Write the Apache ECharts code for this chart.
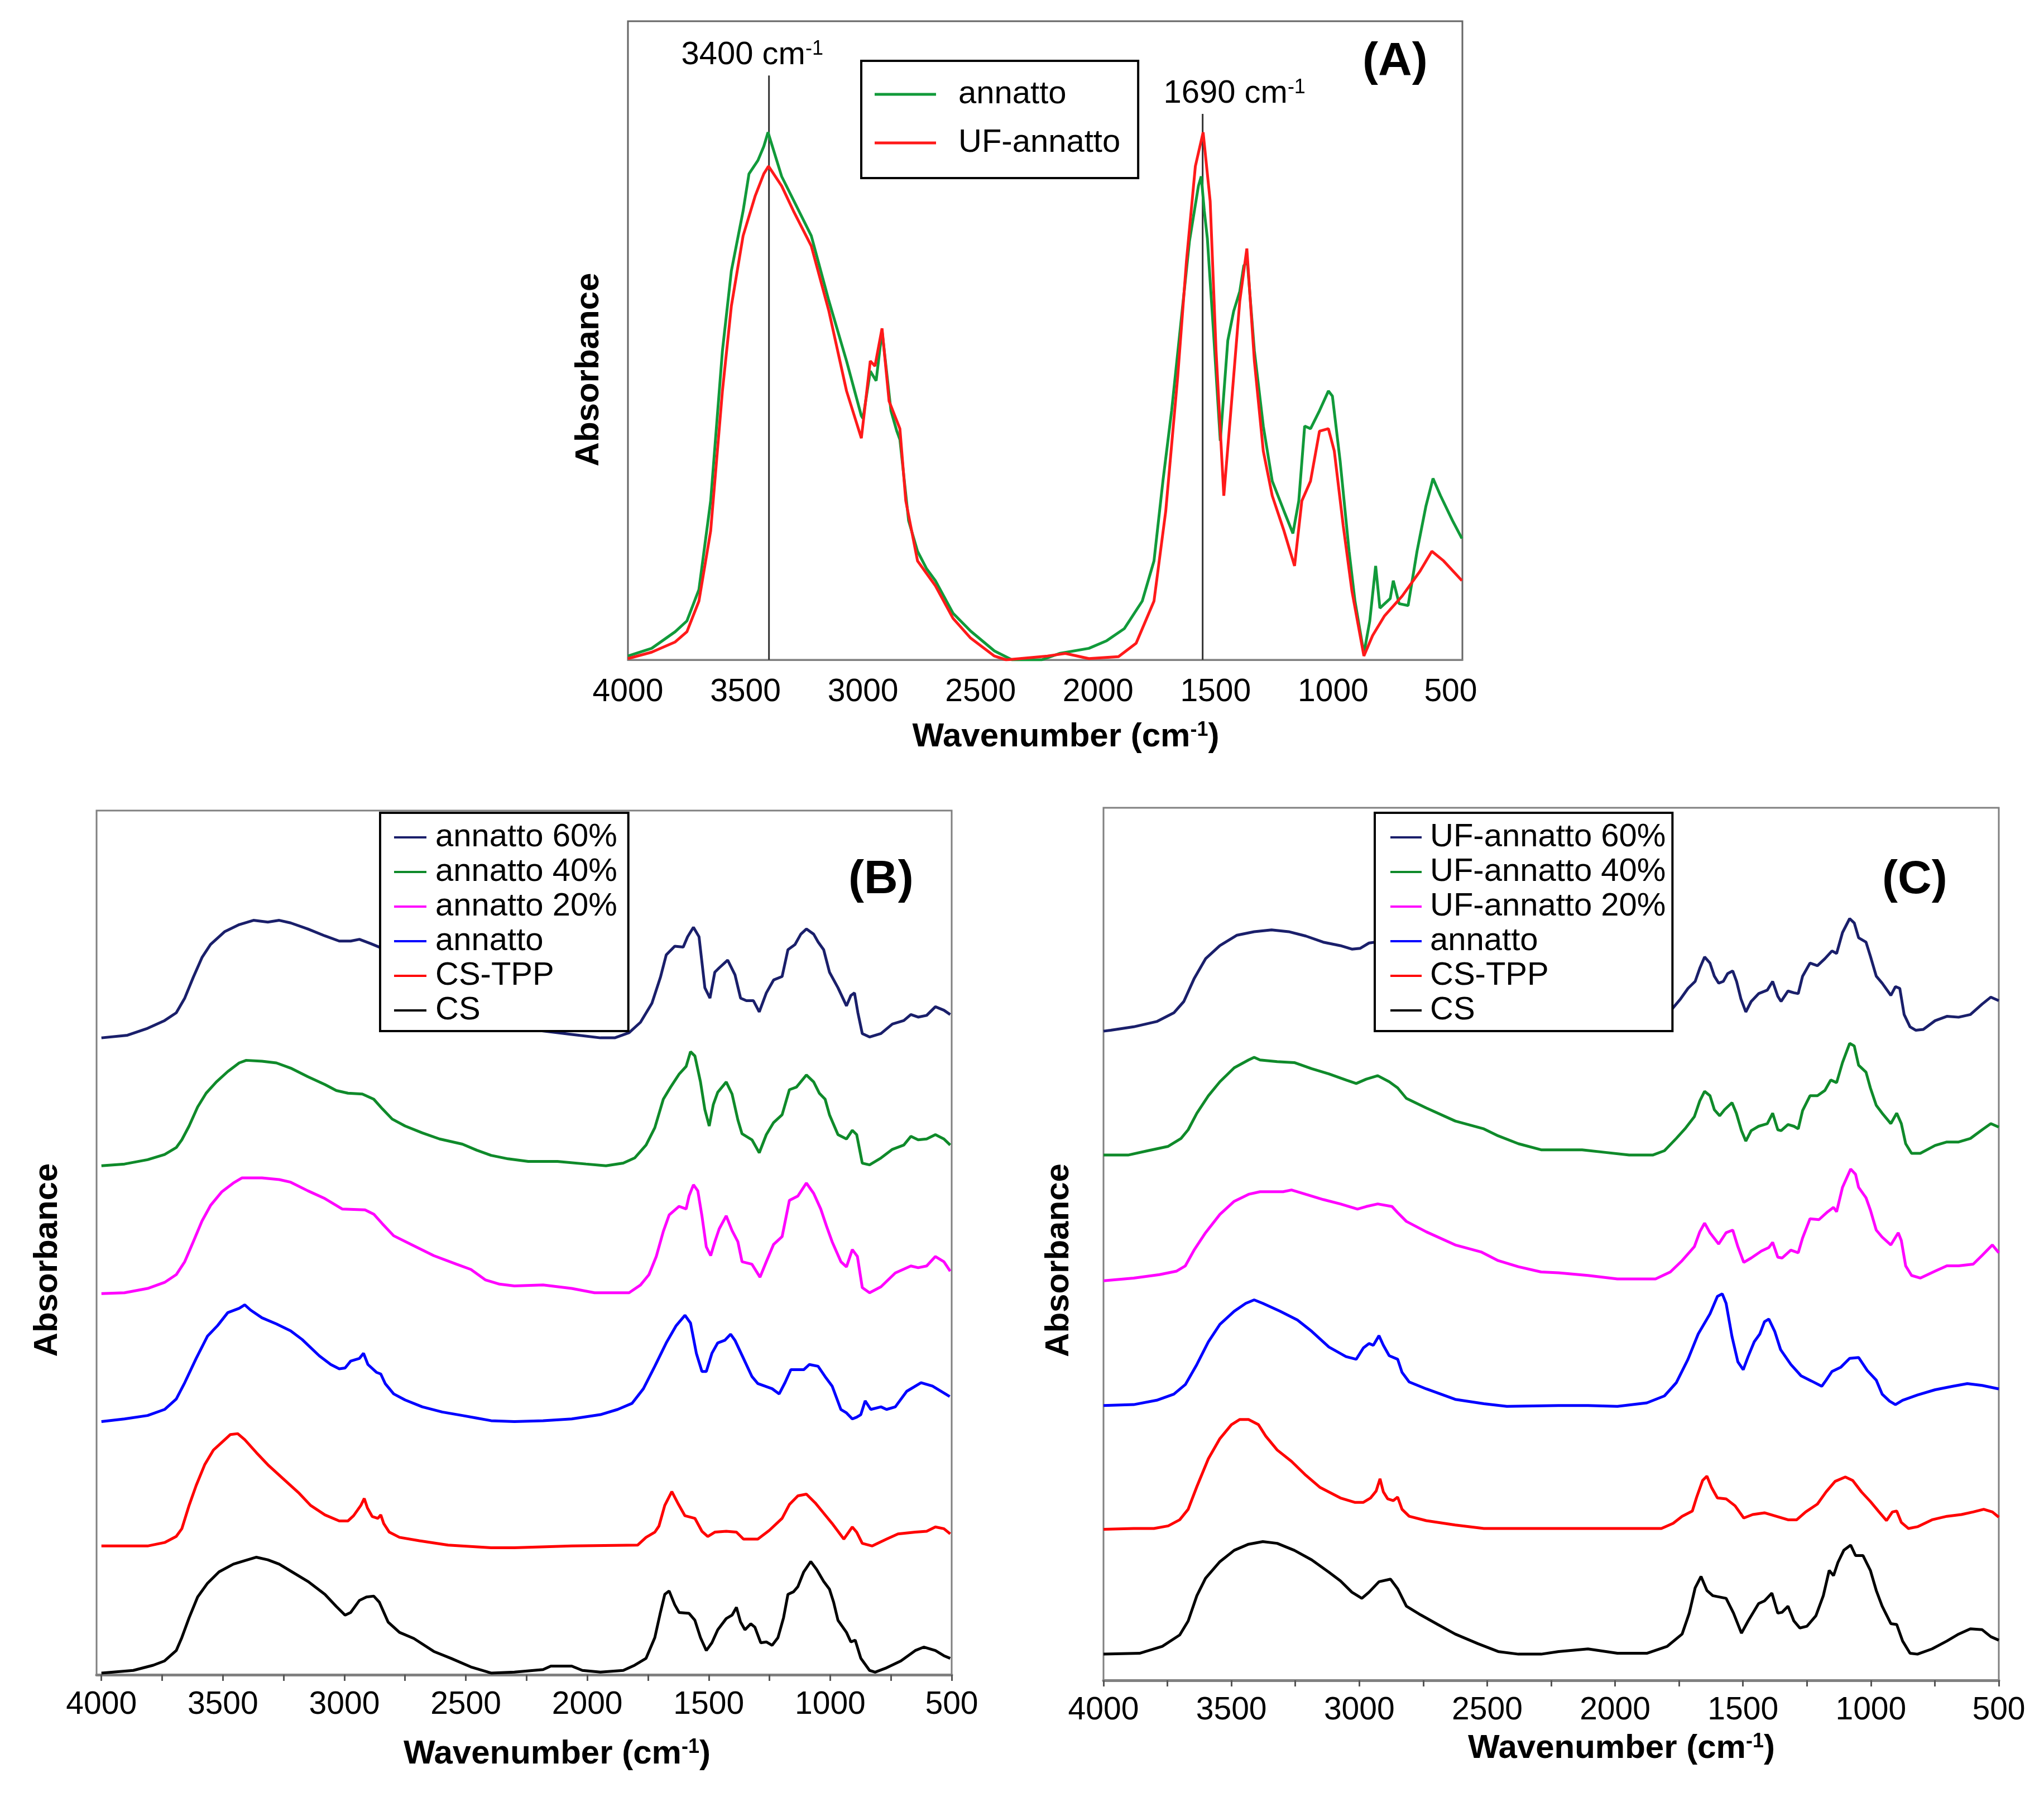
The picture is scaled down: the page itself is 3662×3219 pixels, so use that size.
<!DOCTYPE html>
<html>
<head>
<meta charset="utf-8">
<title>FTIR spectra</title>
<script src="https://cdn.jsdelivr.net/npm/echarts@6/dist/echarts.min.js"></script>
<style>
  html, body { margin: 0; padding: 0; background: #fff; }
  #main { width: 3662px; height: 3219px; }
</style>
</head>
<body>
<div id="main"></div>
<script>
// tick values on the wavenumber axis
var tickLabels = [4000, 3500, 3000, 2500, 2000, 1500, 1000, 500];
var minorTicks = [4000, 3750, 3500, 3250, 3000, 2750, 2500, 2250, 2000, 1750, 1500, 1250, 1000, 750, 500];

// ---- panel A : [wavenumber, absorbance (arb.)]
var A_annatto = [[4000,0.6],[3899,1.8],[3799,4.4],[3749,6.1],[3698,11.0],[3648,24.9],[3598,48.4],[3560,60.9],[3510,70.3],[3485,76.1],[3447,78.2],[3422,80.4],[3404,82.6],[3346,75.7],[3220,66.4],[3145,56.2],[3070,46.8],[3007,38.2],[3000,37.8],[2969,45.2],[2944,43.7],[2919,51.5],[2881,39.0],[2856,35.8],[2843,34.5],[2806,21.8],[2768,17.0],[2730,14.3],[2692,12.4],[2617,7.3],[2542,4.5],[2441,1.4],[2366,0],[2240,0],[2164,1.0],[2039,1.8],[1963,3.0],[1888,4.9],[1812,9.2],[1762,15.5],[1724,28.0],[1687,39.0],[1649,52.3],[1611,65.6],[1573,74.2],[1561,75.7],[1548,70.3],[1535,66.0],[1510,52.0],[1480,34.3],[1448,50.0],[1423,54.6],[1397,57.7],[1380,61.7],[1365,62.4],[1335,48.4],[1297,36.6],[1259,28.0],[1209,23.3],[1171,19.8],[1146,24.9],[1121,36.6],[1096,36.2],[1058,39.0],[1020,42.1],[1003,41.3],[970,31.1],[932,17.0],[907,9.2],[869,1.0],[844,6.1],[819,14.7],[801,8.1],[757,9.6],[744,12.4],[719,8.8],[681,8.5],[643,17.0],[605,24.1],[575,28.4],[543,25.7],[492,21.8],[452,19.0]];
var A_ufAnnatto = [[4000,0.2],[3899,1.2],[3799,2.8],[3749,4.4],[3698,9.2],[3648,20.2],[3598,42.1],[3560,55.4],[3510,66.4],[3459,72.6],[3422,76.1],[3402,77.3],[3346,74.2],[3296,70.3],[3220,64.8],[3145,54.6],[3070,42.1],[3007,34.7],[2969,46.8],[2949,46.0],[2919,51.9],[2889,40.5],[2843,36.2],[2818,24.9],[2768,15.5],[2692,11.6],[2617,6.5],[2542,3.4],[2441,0.6],[2391,0],[2215,0.6],[2139,1.0],[2039,0.2],[1913,0.5],[1838,2.6],[1762,9.2],[1712,23.3],[1661,44.4],[1624,62.4],[1586,77.3],[1553,82.6],[1523,71.8],[1498,48.4],[1465,25.7],[1435,39.0],[1397,56.2],[1367,64.4],[1335,46.8],[1297,32.7],[1259,25.7],[1209,20.2],[1164,14.7],[1133,24.9],[1096,28.0],[1058,35.8],[1020,36.2],[995,32.7],[957,21.0],[920,10.8],[869,0.6],[832,3.8],[781,6.9],[706,10.0],[630,13.9],[580,17.0],[530,15.5],[452,12.4]];
// reference lines drawn in panel A
var A_line3400 = [[3400,0],[3400,91.5]];
var A_line1690 = [[1555,0],[1555,85.5]];

// ---- panel B (stacked, offset spectra)
var B_annatto60 = [[4000,73.7],[3893,74.0],[3810,74.8],[3740,75.7],[3692,76.6],[3657,78.3],[3622,80.7],[3586,83.0],[3551,84.5],[3492,86.0],[3433,86.8],[3374,87.3],[3315,87.1],[3268,87.3],[3221,87.0],[3150,86.3],[3080,85.5],[3021,84.9],[2974,84.9],[2938,85.1],[2891,84.6],[2856,84.2],[2750,82.5],[2600,80.0],[2450,77.5],[2300,74.9],[2182,74.5],[2064,74.1],[1946,73.7],[1887,73.7],[1828,74.3],[1781,75.5],[1734,77.7],[1699,80.7],[1675,83.3],[1640,84.3],[1605,84.2],[1587,85.4],[1563,86.5],[1540,85.4],[1516,79.5],[1495,78.3],[1475,81.3],[1457,81.8],[1422,82.7],[1392,81.0],[1369,78.3],[1345,78.0],[1316,78.0],[1292,76.7],[1263,78.9],[1233,80.4],[1198,80.8],[1174,83.9],[1145,84.5],[1121,85.7],[1098,86.3],[1068,85.7],[1050,84.8],[1027,83.9],[1003,81.3],[968,79.5],[933,77.4],[915,78.6],[900,78.9],[886,76.6],[868,74.2],[838,73.8],[791,74.2],[744,75.3],[697,75.7],[668,76.4],[638,76.1],[603,76.3],[567,77.3],[532,76.9],[506,76.4]];
var B_annatto40 = [[4000,58.9],[3905,59.1],[3810,59.6],[3740,60.2],[3692,61.0],[3669,61.9],[3639,63.5],[3604,65.7],[3569,67.3],[3527,68.6],[3480,69.8],[3433,70.8],[3404,71.1],[3339,71.0],[3280,70.8],[3221,70.2],[3150,69.2],[3080,68.3],[3033,67.6],[2985,67.3],[2926,67.2],[2879,66.6],[2844,65.5],[2803,64.3],[2750,63.5],[2679,62.7],[2608,62.0],[2514,61.4],[2455,60.7],[2396,60.1],[2326,59.7],[2243,59.4],[2123,59.4],[2005,59.1],[1923,58.9],[1852,59.2],[1805,59.8],[1758,61.3],[1722,63.3],[1687,66.6],[1657,68.0],[1622,69.5],[1593,70.4],[1575,72.1],[1557,71.6],[1534,68.6],[1516,65.4],[1498,63.5],[1481,66.0],[1463,67.4],[1428,68.6],[1404,67.2],[1380,64.2],[1363,62.6],[1322,61.9],[1292,60.4],[1263,62.5],[1233,63.9],[1198,64.8],[1168,67.7],[1139,68.0],[1098,69.4],[1068,68.6],[1045,67.3],[1021,66.6],[1003,64.8],[968,62.5],[933,62.0],[909,63.0],[891,62.5],[868,59.2],[838,59.0],[791,59.8],[744,60.8],[697,61.3],[668,62.3],[638,61.9],[603,62.0],[567,62.5],[532,62.0],[506,61.3]];
var B_annatto20 = [[4000,44.1],[3905,44.2],[3810,44.7],[3740,45.4],[3692,46.3],[3657,47.8],[3622,50.1],[3586,52.5],[3551,54.3],[3504,55.9],[3457,56.9],[3421,57.5],[3339,57.5],[3268,57.3],[3221,57.0],[3150,56.0],[3080,55.1],[3009,53.9],[2915,53.8],[2879,53.3],[2844,52.2],[2797,50.8],[2726,49.8],[2632,48.5],[2538,47.5],[2479,46.9],[2420,45.7],[2361,45.2],[2300,45.0],[2182,45.1],[2064,44.7],[1970,44.2],[1828,44.2],[1781,45.1],[1746,46.3],[1716,48.4],[1687,51.3],[1663,53.2],[1622,54.2],[1593,53.9],[1581,55.4],[1563,56.7],[1545,56.0],[1528,53.1],[1510,49.5],[1492,48.5],[1475,50.1],[1457,51.6],[1428,53.1],[1404,51.4],[1380,50.1],[1363,47.8],[1322,47.5],[1289,46.0],[1263,47.8],[1233,49.8],[1198,50.7],[1168,54.9],[1133,55.4],[1098,56.9],[1068,55.7],[1039,53.9],[1015,51.9],[992,50.1],[956,47.8],[933,47.2],[909,49.2],[888,48.4],[868,44.8],[838,44.2],[791,44.9],[732,46.5],[668,47.3],[638,47.1],[603,47.3],[567,48.4],[532,47.8],[506,46.7]];
var B_annatto = [[4000,29.3],[3905,29.6],[3810,30.0],[3740,30.7],[3692,31.9],[3657,33.8],[3610,36.6],[3563,39.2],[3522,40.4],[3480,41.9],[3433,42.4],[3410,42.8],[3386,42.2],[3339,41.3],[3280,40.6],[3221,39.8],[3174,38.8],[3103,36.9],[3056,35.9],[3021,35.4],[2997,35.5],[2974,36.3],[2938,36.6],[2921,37.2],[2903,35.9],[2868,35.0],[2850,34.8],[2832,33.7],[2797,32.5],[2750,31.8],[2679,31.0],[2597,30.4],[2514,30.0],[2455,29.7],[2396,29.4],[2300,29.3],[2182,29.4],[2064,29.6],[1946,30.1],[1875,30.7],[1816,31.4],[1769,33.1],[1722,35.7],[1675,38.4],[1634,40.4],[1598,41.6],[1575,40.7],[1551,37.2],[1528,35.1],[1510,35.1],[1487,37.2],[1463,38.4],[1434,38.7],[1410,39.4],[1392,38.7],[1357,36.6],[1322,34.5],[1298,33.7],[1239,33.1],[1210,32.5],[1186,33.8],[1162,35.3],[1109,35.3],[1086,35.9],[1050,35.7],[1021,34.5],[992,33.4],[956,30.7],[933,30.3],[909,29.6],[891,29.8],[874,30.1],[856,31.7],[833,30.7],[791,31.0],[768,30.7],[732,31.0],[685,32.8],[626,33.8],[579,33.4],[508,32.2]];
var B_csTpp = [[4000,14.9],[3810,14.9],[3740,15.3],[3692,16.0],[3669,16.9],[3639,19.6],[3610,21.9],[3575,24.3],[3539,26.0],[3504,26.9],[3469,27.8],[3439,27.9],[3410,27.2],[3362,25.7],[3315,24.3],[3245,22.5],[3186,21.0],[3139,19.6],[3080,18.5],[3021,17.8],[2985,17.8],[2962,18.4],[2932,19.6],[2918,20.4],[2905,19.3],[2885,18.3],[2862,18.1],[2850,18.5],[2838,17.5],[2815,16.5],[2773,15.9],[2691,15.5],[2573,15.0],[2396,14.7],[2300,14.7],[2064,14.9],[1793,15.0],[1758,15.9],[1722,16.5],[1705,17.2],[1681,19.6],[1652,21.2],[1628,19.9],[1598,18.4],[1557,18.1],[1528,16.6],[1504,16.0],[1475,16.5],[1428,16.6],[1386,16.5],[1357,15.7],[1298,15.7],[1251,16.7],[1198,18.1],[1168,19.7],[1133,20.7],[1098,20.9],[1062,19.9],[1027,18.7],[992,17.5],[944,15.7],[909,17.1],[891,16.5],[868,15.2],[827,14.9],[768,15.7],[721,16.3],[650,16.5],[603,16.6],[567,17.1],[532,16.9],[506,16.3]];
var B_cs = [[4000,0.2],[3869,0.5],[3787,1.1],[3740,1.6],[3692,2.8],[3669,4.3],[3639,6.6],[3604,9.0],[3563,10.6],[3516,11.9],[3457,12.8],[3410,13.2],[3362,13.6],[3315,13.3],[3268,12.8],[3221,12.0],[3150,10.8],[3080,9.3],[3033,7.9],[2997,6.9],[2974,7.2],[2938,8.6],[2909,9.0],[2879,9.1],[2856,8.4],[2820,6.1],[2773,4.9],[2714,4.2],[2632,2.7],[2561,1.9],[2479,0.9],[2396,0.2],[2300,0.3],[2182,0.6],[2150,1.0],[2064,1.0],[2020,0.5],[1946,0.3],[1852,0.5],[1805,1.1],[1758,1.9],[1722,4.3],[1699,7.2],[1681,9.3],[1663,9.7],[1640,8.1],[1622,7.2],[1581,7.1],[1557,6.3],[1534,4.3],[1510,2.8],[1487,3.7],[1463,5.2],[1428,6.5],[1404,6.9],[1386,7.8],[1369,6.1],[1351,5.2],[1327,5.9],[1310,5.5],[1286,3.7],[1263,3.8],[1239,3.4],[1215,4.3],[1192,6.6],[1174,9.3],[1151,9.6],[1133,10.2],[1109,11.9],[1080,13.1],[1056,12.2],[1027,10.8],[1003,9.9],[986,8.4],[968,6.3],[933,4.9],[915,3.8],[897,4.0],[874,1.9],[838,0.5],[815,0.3],[768,0.8],[709,1.6],[650,2.8],[615,3.2],[567,2.8],[532,2.2],[506,1.9]];

// ---- panel C (stacked, offset spectra)
var C_uf60 = [[4000,74.4],[3972,74.5],[3882,74.9],[3792,75.5],[3725,76.5],[3686,77.8],[3646,80.4],[3601,82.7],[3545,84.2],[3478,85.4],[3411,85.8],[3343,86.0],[3276,85.8],[3209,85.3],[3141,84.6],[3074,84.2],[3029,83.8],[2996,83.9],[2962,84.5],[2939,84.6],[2850,83.0],[2700,80.5],[2500,78.0],[2300,76.0],[2100,75.0],[1950,74.5],[1850,74.7],[1790,76.5],[1744,78.1],[1715,79.3],[1687,80.1],[1669,81.6],[1650,82.9],[1629,82.2],[1612,80.7],[1595,79.9],[1577,80.1],[1560,81.0],[1540,81.3],[1525,80.1],[1508,78.1],[1489,76.6],[1468,77.8],[1439,78.7],[1405,79.1],[1384,80.1],[1364,78.4],[1351,77.8],[1324,79.0],[1301,78.8],[1284,78.7],[1267,80.7],[1238,82.2],[1209,81.9],[1180,82.7],[1152,83.6],[1134,83.3],[1111,85.7],[1083,87.3],[1065,86.8],[1048,85.1],[1019,84.6],[1002,83.0],[979,80.7],[956,79.9],[922,78.5],[904,79.5],[887,79.3],[870,76.3],[847,74.9],[824,74.5],[795,74.6],[749,75.6],[703,76.1],[657,76.0],[611,76.3],[565,77.5],[531,78.3],[500,77.9]];
var C_uf40 = [[4000,60.2],[3904,60.2],[3826,60.7],[3747,61.2],[3697,62.1],[3669,63.1],[3635,65.0],[3590,67.0],[3545,68.6],[3489,70.2],[3433,71.1],[3411,71.4],[3388,71.1],[3321,70.9],[3254,70.8],[3186,70.1],[3119,69.5],[3052,68.8],[3012,68.4],[2973,68.9],[2928,69.3],[2883,68.6],[2850,67.9],[2816,66.7],[2738,65.6],[2625,64.1],[2513,63.2],[2457,62.4],[2378,61.5],[2289,60.8],[2221,60.8],[2129,60.8],[2037,60.5],[1945,60.2],[1853,60.2],[1807,60.7],[1761,62.1],[1727,63.2],[1690,64.6],[1669,66.4],[1650,67.5],[1629,67.0],[1612,65.4],[1591,64.7],[1572,65.4],[1543,66.2],[1526,65.0],[1506,63.0],[1489,61.8],[1468,63.0],[1439,63.5],[1405,63.8],[1384,65.0],[1364,63.1],[1351,63.0],[1324,63.7],[1301,63.5],[1284,63.2],[1267,65.3],[1238,67.0],[1209,67.0],[1180,67.6],[1157,68.8],[1134,68.5],[1111,70.8],[1083,73.0],[1065,72.7],[1048,70.5],[1019,69.7],[1002,67.9],[979,65.9],[956,65.0],[922,63.8],[899,65.0],[881,63.8],[864,61.5],[841,60.4],[807,60.4],[749,61.3],[703,61.7],[657,61.7],[611,62.1],[565,63.1],[531,63.8],[500,63.4]];
var C_uf20 = [[4000,45.8],[3882,46.1],[3781,46.5],[3714,46.9],[3680,47.5],[3646,49.3],[3601,51.3],[3545,53.4],[3489,54.9],[3433,55.7],[3388,56.0],[3298,56.0],[3265,56.2],[3209,55.7],[3141,55.1],[3074,54.6],[3007,54.0],[2973,54.3],[2928,54.6],[2872,54.3],[2850,53.6],[2816,52.6],[2738,51.4],[2625,49.9],[2524,49.1],[2457,48.1],[2378,47.4],[2289,46.8],[2221,46.7],[2106,46.4],[1991,46.0],[1842,46.0],[1784,46.8],[1738,48.1],[1690,49.7],[1669,51.4],[1650,52.4],[1629,51.3],[1595,50.0],[1566,51.3],[1540,51.6],[1520,49.7],[1497,47.9],[1468,48.4],[1428,49.2],[1399,49.6],[1384,50.2],[1364,48.5],[1347,48.4],[1313,49.3],[1284,49.0],[1267,50.7],[1238,52.9],[1203,52.8],[1169,53.7],[1146,54.2],[1134,53.7],[1111,56.5],[1079,58.6],[1060,58.0],[1048,56.5],[1019,55.3],[1002,53.9],[979,51.6],[956,50.8],[922,49.9],[893,51.3],[881,50.4],[864,47.5],[841,46.4],[807,46.1],[749,46.9],[703,47.5],[657,47.5],[600,47.7],[565,48.7],[525,49.9],[500,49.0]];
var C_annatto = [[4000,31.5],[3882,31.6],[3792,32.1],[3725,32.8],[3680,33.9],[3635,36.2],[3590,38.8],[3545,40.8],[3489,42.3],[3444,43.2],[3411,43.6],[3377,43.2],[3310,42.3],[3242,41.3],[3186,40.0],[3119,38.2],[3052,37.1],[3012,36.8],[2984,38.1],[2962,38.6],[2945,38.4],[2923,39.5],[2906,38.4],[2883,37.2],[2850,36.8],[2833,35.3],[2805,34.2],[2738,33.4],[2625,32.2],[2513,31.7],[2423,31.4],[2221,31.5],[2106,31.5],[1991,31.4],[1876,31.8],[1807,32.6],[1761,34.1],[1715,36.8],[1675,39.7],[1629,42.0],[1600,44.0],[1581,44.3],[1566,43.2],[1543,39.4],[1520,36.5],[1499,35.6],[1480,37.1],[1456,38.8],[1434,39.7],[1416,41.1],[1399,41.4],[1376,40.0],[1353,37.9],[1313,36.2],[1273,34.9],[1232,34.3],[1192,33.7],[1175,34.4],[1152,35.4],[1117,35.9],[1083,36.9],[1048,37.0],[1014,35.5],[979,34.4],[956,32.8],[927,32.0],[904,31.6],[876,32.1],[818,32.7],[749,33.3],[680,33.7],[623,34.0],[565,33.8],[500,33.4]];
var C_csTpp = [[4000,17.3],[3882,17.4],[3803,17.4],[3747,17.7],[3702,18.4],[3669,19.6],[3635,22.2],[3590,25.4],[3545,27.7],[3500,29.3],[3467,29.9],[3433,29.9],[3394,29.3],[3366,28.0],[3321,26.4],[3265,25.1],[3209,23.5],[3153,22.1],[3074,20.9],[3018,20.4],[2984,20.4],[2956,20.9],[2934,21.7],[2919,23.1],[2906,21.6],[2889,20.8],[2867,20.6],[2850,21.0],[2833,19.6],[2805,18.8],[2738,18.3],[2625,17.8],[2513,17.4],[2401,17.4],[2221,17.4],[1991,17.4],[1819,17.4],[1773,18.0],[1738,18.8],[1698,19.4],[1681,21.0],[1658,22.9],[1641,23.4],[1623,22.1],[1600,20.9],[1566,20.8],[1531,20.0],[1497,18.6],[1462,19.0],[1416,19.2],[1370,18.8],[1324,18.4],[1290,18.4],[1255,19.3],[1209,20.2],[1175,21.6],[1140,22.8],[1100,23.3],[1071,22.9],[1037,21.6],[1002,20.5],[968,19.3],[939,18.3],[916,19.3],[899,19.4],[881,18.1],[853,17.4],[818,17.6],[761,18.4],[703,18.8],[646,19.0],[600,19.3],[559,19.6],[525,19.3],[500,18.7]];
var C_cs = [[4000,3.0],[3859,3.1],[3770,3.9],[3702,5.2],[3669,6.8],[3635,9.7],[3601,11.7],[3545,13.6],[3489,14.9],[3433,15.6],[3377,15.9],[3321,15.7],[3254,14.9],[3186,13.8],[3119,12.4],[3074,11.4],[3029,10.1],[2990,9.4],[2962,10.1],[2923,11.3],[2878,11.6],[2850,10.5],[2816,8.5],[2760,7.5],[2693,6.4],[2625,5.3],[2536,4.2],[2457,3.3],[2378,3.0],[2289,3.0],[2221,3.3],[2106,3.6],[1991,3.1],[1876,3.1],[1796,3.9],[1738,5.3],[1710,7.7],[1687,10.6],[1664,11.9],[1641,10.3],[1618,9.7],[1566,9.4],[1537,7.7],[1506,5.4],[1480,6.8],[1439,8.8],[1416,9.1],[1387,10.0],[1364,7.7],[1347,7.8],[1324,8.5],[1301,6.8],[1278,6.0],[1250,6.2],[1215,7.4],[1186,9.7],[1163,12.6],[1146,12.0],[1129,13.5],[1106,14.9],[1079,15.5],[1060,14.3],[1031,14.3],[1002,12.6],[979,10.3],[956,8.5],[922,6.5],[899,6.4],[876,4.5],[847,3.1],[818,3.0],[761,3.6],[703,4.5],[657,5.3],[611,5.9],[565,5.8],[531,5.0],[500,4.6]];

var FONT = 'Arial, "Liberation Sans", sans-serif';
var SUP = { fontSize: 36, fontFamily: FONT, verticalAlign: 'top', lineHeight: 36 };

function xAxisOf(idx, min, max, ticks, gap, shift) {
    return {
        gridIndex: idx,
        type: 'value',
        inverse: true,
        min: min,
        max: max,
        name: 'Wavenumber (cm{sup|-1})',
        nameLocation: 'middle',
        nameGap: gap,
        nameTextStyle: {
            fontSize: 60, fontWeight: 'bold', fontFamily: FONT, color: '#000',
            padding: [0, 0, 0, shift],
            rich: { sup: Object.assign({ fontWeight: 'bold', color: '#000' }, SUP) }
        },
        axisLine: { show: true, onZero: false, lineStyle: { color: '#808080', width: idx === 0 ? 3 : 5 } },
        axisTick: ticks ? { show: true, customValues: minorTicks, length: 11, lineStyle: { color: '#555', width: 3 } } : { show: false },
        axisLabel: {
            customValues: tickLabels, fontSize: 57, fontFamily: FONT, color: '#000', margin: ticks ? 26 : 30,
            formatter: function (v) { return String(v); }
        },
        splitLine: { show: false }
    };
}
function yAxisOf(idx, gap, shift) {
    return {
        gridIndex: idx,
        type: 'value',
        min: 0,
        max: 100,
        name: 'Absorbance',
        nameLocation: 'middle',
        nameGap: gap,
        nameTextStyle: { fontSize: 60, fontWeight: 'bold', fontFamily: FONT, color: '#000', padding: [0, shift, 0, 0] },
        axisLine: { show: false },
        axisTick: { show: false },
        axisLabel: { show: false },
        splitLine: { show: false }
    };
}
function spec(name, idx, data, color) {
    return {
        name: name, type: 'line', xAxisIndex: idx, yAxisIndex: idx,
        data: data, showSymbol: false, symbol: 'none', silent: true,
        lineStyle: { color: color, width: 5 }, itemStyle: { color: color }
    };
}
// vertical guide line in panel A, its text sits on the top point
function markLineSeries(idx, data, text, offset) {
    var pts = data.map(function (p, i) {
        if (i === data.length - 1) {
            return { value: p, label: { show: true, position: 'top', distance: 6, offset: offset,
                formatter: text, fontSize: 58, fontFamily: FONT, color: '#000',
                rich: { sup: Object.assign({ color: '#000' }, SUP) } } };
        }
        return p;
    });
    return {
        type: 'line', xAxisIndex: idx, yAxisIndex: idx, data: pts,
        symbol: 'circle', symbolSize: 2, showSymbol: true,
        itemStyle: { color: 'rgba(0,0,0,0)' },
        label: { show: false },
        silent: true, lineStyle: { color: '#333', width: 3 }, z: 1
    };
}
function legendItem(name, color) {
    return { name: name, itemStyle: { color: color } };
}

var dom = document.getElementById('main');
var myChart = echarts.init(dom, null, { renderer: 'canvas', devicePixelRatio: 1 });

myChart.setOption({
    backgroundColor: '#fff',
    animation: false,
    title: [
        { text: '(A)', left: 2441, top: 70, padding: 0, textStyle: { fontSize: 84, fontWeight: 'bold', fontFamily: FONT, color: '#000' } },
        { text: '(B)', left: 1520, top: 1535, padding: 0, textStyle: { fontSize: 84, fontWeight: 'bold', fontFamily: FONT, color: '#000' } },
        { text: '(C)', left: 3372, top: 1535, padding: 0, textStyle: { fontSize: 84, fontWeight: 'bold', fontFamily: FONT, color: '#000' } }
    ],
    grid: [
        { left: 1125, top: 38, width: 1495, height: 1144, show: true, borderColor: '#666', borderWidth: 3, backgroundColor: 'transparent' },
        { left: 173, top: 1452, width: 1532, height: 1548, show: true, borderColor: '#808080', borderWidth: 3, backgroundColor: 'transparent' },
        { left: 1977, top: 1447, width: 1604, height: 1563, show: true, borderColor: '#808080', borderWidth: 3, backgroundColor: 'transparent' }
    ],
    xAxis: [
        xAxisOf(0, 450, 4000, false, 108, 74),
        xAxisOf(1, 500, 4020, true, 112, 118),
        xAxisOf(2, 500, 4000, true, 92, 252)
    ],
    yAxis: [
        yAxisOf(0, 40, 104),
        yAxisOf(1, 58, 62),
        yAxisOf(2, 50, 58)
    ],
    legend: [
        {
            left: 1543, top: 109, orient: 'vertical',
            data: [legendItem('annatto', '#119a3a'), legendItem('UF-annatto', '#ff1a1a')],
            icon: 'rect', itemWidth: 110, itemHeight: 5, itemGap: 29,
            padding: [31, 32, 34, 24],
            backgroundColor: '#fff', borderColor: '#000', borderWidth: 4,
            textStyle: { fontSize: 58, lineHeight: 58, fontFamily: FONT, color: '#000', padding: [0, 0, 0, 35] },
            selectedMode: false
        },
        {
            left: 681, top: 1456, orient: 'vertical',
            data: [legendItem('annatto 60%', '#1a1f6b'), legendItem('annatto 40%', '#0f8a2a'), legendItem('annatto 20%', '#ff00ff'),
                   legendItem('annatto', '#0000ff'), legendItem('CS-TPP', '#ff0000'), legendItem('CS', '#000000')],
            icon: 'rect', itemWidth: 58, itemHeight: 4, itemGap: 4,
            padding: [15, 20, 8, 25],
            backgroundColor: '#fff', borderColor: '#000', borderWidth: 4,
            textStyle: { fontSize: 58, lineHeight: 58, fontFamily: FONT, color: '#000', padding: [0, 0, 0, 11] },
            selectedMode: false
        },
        {
            left: 2463, top: 1456, orient: 'vertical',
            data: [legendItem('UF-annatto 60%', '#1a1f6b'), legendItem('UF-annatto 40%', '#0f8a2a'), legendItem('UF-annatto 20%', '#ff00ff'),
                   legendItem('annatto', '#0000ff'), legendItem('CS-TPP', '#ff0000'), legendItem('CS', '#000000')],
            icon: 'rect', itemWidth: 56, itemHeight: 4, itemGap: 4,
            padding: [15, 12, 8, 28],
            backgroundColor: '#fff', borderColor: '#000', borderWidth: 4,
            textStyle: { fontSize: 58, lineHeight: 58, fontFamily: FONT, color: '#000', padding: [0, 0, 0, 10] },
            selectedMode: false
        }
    ],
    series: [
        markLineSeries(0, A_line3400, '3400 cm{sup|-1}', [-30, 0]),
        markLineSeries(0, A_line1690, '1690 cm{sup|-1}', [57, 0]),
        spec('annatto', 0, A_annatto, '#119a3a'),
        spec('UF-annatto', 0, A_ufAnnatto, '#ff1a1a'),

        spec('annatto 60%', 1, B_annatto60, '#1a1f6b'),
        spec('annatto 40%', 1, B_annatto40, '#0f8a2a'),
        spec('annatto 20%', 1, B_annatto20, '#ff00ff'),
        spec('annatto', 1, B_annatto, '#0000ff'),
        spec('CS-TPP', 1, B_csTpp, '#ff0000'),
        spec('CS', 1, B_cs, '#000000'),

        spec('UF-annatto 60%', 2, C_uf60, '#1a1f6b'),
        spec('UF-annatto 40%', 2, C_uf40, '#0f8a2a'),
        spec('UF-annatto 20%', 2, C_uf20, '#ff00ff'),
        spec('annatto', 2, C_annatto, '#0000ff'),
        spec('CS-TPP', 2, C_csTpp, '#ff0000'),
        spec('CS', 2, C_cs, '#000000')
    ]
});

window.addEventListener('resize', function () {
    myChart.resize();
});
</script>
</body>
</html>
